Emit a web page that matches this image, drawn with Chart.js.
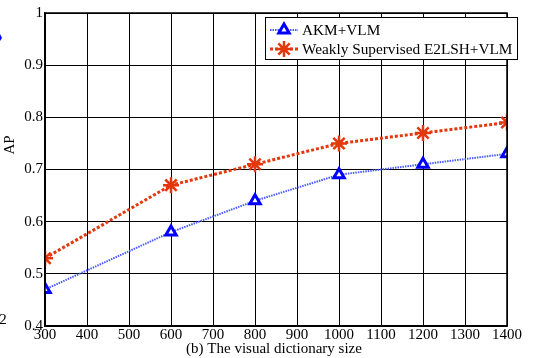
<!DOCTYPE html>
<html>
<head>
<meta charset="utf-8">
<script src="https://cdn.jsdelivr.net/npm/chart.js@4.4.1/dist/chart.umd.min.js"></script>
<style>
  html, body { margin: 0; padding: 0; background: #fff; }
  #wrap { width: 543px; height: 358px; }
</style>
</head>
<body>
<div id="wrap"><canvas id="c" width="543" height="358"></canvas></div>
<script>
// Dictionary sizes and AP per method
const dictSizes = [300, 600, 800, 1000, 1200, 1400];
const akmVlm = [0.47, 0.58, 0.64, 0.69, 0.71, 0.73];
const e2lshVlm = [0.53, 0.67, 0.71, 0.75, 0.77, 0.79];
const seriesNames = ['AKM+VLM', 'Weakly Supervised E2LSH+VLM'];
const xTitle = '(b) The visual dictionary size';
const yTitle = 'AP';

const FONT = 'Liberation Serif, Times New Roman, serif';
const BLUE = '#0000ff';
const BLUE_LINE = '#4a5cff';
const RED = '#e3380c';

const toPoints = (ys) => dictSizes.map((x, i) => ({ x, y: ys[i] }));

// Legend box, axis titles and frame drawn on top of the chart area
const decorations = {
  id: 'decorations',
  afterDraw(chart) {
    const ctx = chart.ctx;
    const area = chart.chartArea;
    ctx.save();
    // frame around the plot
    ctx.strokeStyle = '#000';
    ctx.lineWidth = 1.5;
    ctx.strokeRect(area.left, area.top, area.right - area.left, area.bottom - area.top);

    // legend
    const lx = 265, ly = 17, lw = 252, lh = 42;
    ctx.fillStyle = '#fff';
    ctx.fillRect(lx, ly, lw, lh);
    ctx.lineWidth = 1;
    ctx.strokeRect(lx + 0.5, ly + 0.5, lw, lh);
    const rows = [
      { name: seriesNames[0], y: 30, color: BLUE_LINE, dash: [1.5, 1], width: 2, marker: 'triangle' },
      { name: seriesNames[1], y: 49, color: RED, dash: [3, 2], width: 3, marker: 'star' }
    ];
    rows.forEach(r => {
      ctx.setLineDash(r.dash);
      ctx.strokeStyle = r.color;
      ctx.lineWidth = r.width;
      ctx.beginPath();
      ctx.moveTo(lx + 5, r.y);
      ctx.lineTo(lx + 33, r.y);
      ctx.stroke();
      ctx.setLineDash([]);
      if (r.marker === 'triangle') {
        ctx.fillStyle = '#fff'; ctx.strokeStyle = BLUE; ctx.lineWidth = 3;
        Chart.helpers.drawPoint(ctx, { pointStyle: 'triangle', radius: 6, borderWidth: 3 }, lx + 19, r.y);
      } else {
        ctx.strokeStyle = RED; ctx.fillStyle = RED; ctx.lineWidth = 2.5;
        Chart.helpers.drawPoint(ctx, { pointStyle: 'star', radius: 8, borderWidth: 2.5 }, lx + 19, r.y);
      }
      ctx.fillStyle = '#000';
      ctx.font = '15.3px ' + FONT;
      ctx.textBaseline = 'middle';
      ctx.textAlign = 'left';
      ctx.fillText(r.name, lx + 37, r.y + 1);
    });

    // axis titles
    ctx.fillStyle = '#000';
    ctx.font = '15px ' + FONT;
    ctx.textAlign = 'center';
    ctx.textBaseline = 'middle';
    ctx.fillText(xTitle, 274, 349);
    ctx.save();
    ctx.translate(10, 145);
    ctx.rotate(-Math.PI / 2);
    ctx.fillText(yTitle, 0, 0);
    ctx.restore();

    // neighbouring panel remnants at the left edge
    ctx.fillText('2', 3, 320);
    ctx.fillStyle = BLUE;
    ctx.beginPath();
    ctx.moveTo(0, 34); ctx.lineTo(2, 38); ctx.lineTo(0, 41); ctx.closePath();
    ctx.fill();
    ctx.restore();
  }
};

new Chart(document.getElementById('c'), {
  type: 'line',
  data: {
    datasets: [
      {
        label: seriesNames[0],
        data: toPoints(akmVlm),
        borderColor: BLUE_LINE,
        borderWidth: 2,
        borderDash: [1.5, 1],
        pointStyle: 'triangle',
        pointRadius: 6,
        pointBorderWidth: 3,
        pointBorderColor: BLUE,
        pointBackgroundColor: '#fff',
        tension: 0,
        fill: false
      },
      {
        label: seriesNames[1],
        data: toPoints(e2lshVlm),
        borderColor: RED,
        borderWidth: 3,
        borderDash: [3, 2],
        pointStyle: 'star',
        pointRadius: 8,
        pointBorderWidth: 2.5,
        pointBorderColor: RED,
        pointBackgroundColor: RED,
        tension: 0,
        fill: false
      }
    ]
  },
  options: {
    responsive: false,
    animation: false,
    layout: { padding: { top: 13, right: 36, left: 0, bottom: 0 } },
    plugins: { legend: { display: false }, tooltip: { enabled: false } },
    scales: {
      x: {
        type: 'linear',
        min: 300,
        max: 1400,
        ticks: {
          stepSize: 100,
          color: '#000',
          font: { family: FONT, size: 15 },
          padding: 0,
          maxRotation: 0,
          autoSkip: false,
          callback: v => String(v)
        },
        grid: { color: '#000', lineWidth: 1, drawTicks: false },
        border: { color: '#000', width: 1.5 },
        afterFit(scale) { scale.height = 32; }
      },
      y: {
        min: 0.4,
        max: 1,
        ticks: {
          stepSize: 0.1,
          color: '#000',
          font: { family: FONT, size: 15 },
          padding: 2,
          callback: v => (Math.round(v * 10) / 10).toString()
        },
        grid: { color: '#000', lineWidth: 1, drawTicks: false },
        border: { color: '#000', width: 1.5 },
        afterFit(scale) { scale.width = 45; }
      }
    }
  },
  plugins: [decorations]
});
</script>
</body>
</html>
